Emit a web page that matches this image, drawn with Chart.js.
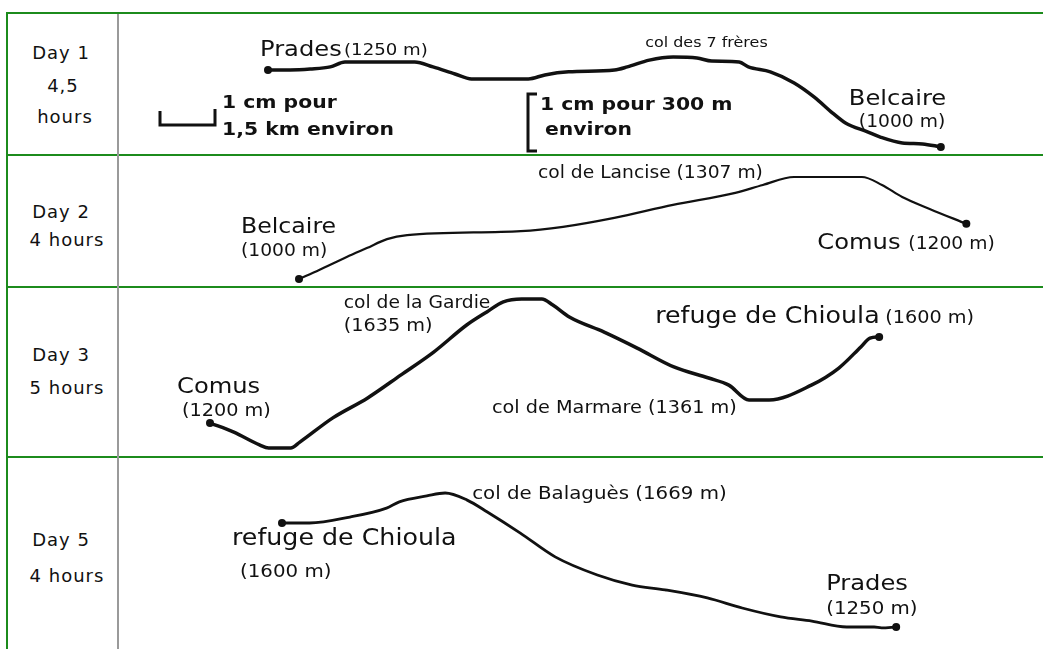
<!DOCTYPE html>
<html>
<head>
<meta charset="utf-8">
<script src="https://cdn.jsdelivr.net/npm/chart.js@4.4.1/dist/chart.umd.min.js"></script>
<style>
  body { margin: 0; background: #fff; width: 1043px; height: 649px; overflow: hidden; position: relative;
         font-family: "DejaVu Sans", sans-serif; color: #111; }
  .g { position: absolute; background: #1c8b1c; }
  .v { position: absolute; background: #9a9a9a; }
  .day { position: absolute; width: 110px; text-align: center; font-size: 18px; line-height: 22px; letter-spacing: 1px; }
  canvas { position: absolute; left: 119px; }
</style>
</head>
<body>
<div class="g" style="left:6px;top:12px;width:1037px;height:2px"></div>
<div class="g" style="left:6px;top:154px;width:1037px;height:2px"></div>
<div class="g" style="left:6px;top:286px;width:1037px;height:2px"></div>
<div class="g" style="left:6px;top:456px;width:1037px;height:2px"></div>
<div class="g" style="left:6px;top:12px;width:2px;height:637px"></div>
<div class="v" style="left:117px;top:14px;width:2px;height:635px"></div>

<div class="day" style="left:6px;top:42px">Day 1</div>
<div class="day" style="left:8px;top:75px">4,5</div>
<div class="day" style="left:10px;top:106px">hours</div>
<div class="day" style="left:6px;top:201px">Day 2</div>
<div class="day" style="left:12px;top:229px">4 hours</div>
<div class="day" style="left:6px;top:344px">Day 3</div>
<div class="day" style="left:12px;top:377px">5 hours</div>
<div class="day" style="left:6px;top:529px">Day 5</div>
<div class="day" style="left:12px;top:565px">4 hours</div>

<canvas id="day1" width="924" height="140" style="top:14px"></canvas>
<canvas id="day2" width="924" height="130" style="top:156px"></canvas>
<canvas id="day3" width="924" height="168" style="top:288px"></canvas>
<canvas id="day5" width="924" height="191" style="top:458px"></canvas>

<script>
// distance along the day (km) and altitude (m)
const day1Km   = [0, 0.6, 1.15, 1.7, 2.1, 4.0, 4.5, 5.1, 5.55, 6.35, 7.1, 7.55, 8.2, 9.45, 9.8, 10.4, 11.05, 11.7, 12.1, 12.85, 13.1, 13.7, 14.35, 14.9, 15.4, 15.75, 16.35, 16.7, 17.3, 17.85, 18.35];
const day1Elev = [1250, 1250, 1253, 1260, 1276, 1276, 1260, 1237, 1221, 1221, 1221, 1234, 1244, 1250, 1260, 1282, 1292, 1289, 1279, 1276, 1260, 1244, 1208, 1162, 1110, 1078, 1049, 1032, 1013, 1010, 1000];

const day2Km   = [0, 0.55, 1.3, 1.85, 2.4, 2.95, 6.05, 7.2, 8.6, 10.2, 11.9, 12.65, 13.5, 15.35, 15.9, 16.45, 17.2, 18.2];
const day2Elev = [1000, 1027, 1066, 1093, 1120, 1132, 1144, 1157, 1184, 1223, 1259, 1283, 1307, 1307, 1283, 1247, 1211, 1166];

const day3Km   = [0, 0.65, 1.35, 1.6, 2.2, 2.45, 3.35, 4.3, 5.2, 6.1, 7.0, 7.55, 8.0, 8.5, 9.05, 9.35, 9.8, 10.75, 11.65, 12.65, 13.6, 14.15, 14.7, 15.25, 16.4, 17.15, 17.75, 18.0, 18.25];
const day3Elev = [1200, 1168, 1123, 1112, 1112, 1133, 1218, 1288, 1368, 1449, 1544, 1590, 1625, 1635, 1635, 1614, 1572, 1519, 1463, 1397, 1358, 1333, 1281, 1281, 1333, 1393, 1467, 1498, 1502];

const day5Km   = [0, 0.75, 1.85, 2.85, 3.2, 3.95, 4.45, 5.05, 5.6, 6.5, 7.45, 8.6, 9.55, 10.45, 11.6, 12.55, 13.6, 14.45, 15.4, 16.15, 16.35, 16.75];
const day5Elev = [1600, 1600, 1620, 1650, 1671, 1691, 1701, 1677, 1637, 1566, 1486, 1425, 1391, 1375, 1348, 1314, 1284, 1270, 1250, 1250, 1247, 1250];

const PX_PER_KM = 55 / 1.5;   // "1 cm pour 1,5 km environ"
const KM_SPAN = 924 / PX_PER_KM;
const STRETCH = 1.1;

// labels hang off a point of the profile: at = point index, dx/dy in pixels
const rows = [
  { id: 'day1', km: day1Km, elev: day1Elev, startX: 268, yMin: 977.2, yMax: 1431.8, lw: 3.5, scaleKey: true,
    labels: [
      { text: 'Prades', at: 0, dx: -8, dy: -14, size: 22 },
      { text: '(1250 m)', at: 0, dx: 76, dy: -15, size: 16.5 },
      { text: 'col des 7 frères', at: 16, dx: -28, dy: -10, size: 14.5 },
      { text: 'Belcaire', at: 30, dx: -92, dy: -42, size: 22 },
      { text: '(1000 m)', at: 30, dx: -82, dy: -20, size: 17 },
    ] },
  { id: 'day2', km: day2Km, elev: day2Elev, startX: 299, yMin: 978.9, yMax: 1370.2, lw: 2.2,
    labels: [
      { text: 'Belcaire', at: 0, dx: -58, dy: -46, size: 21.5 },
      { text: '(1000 m)', at: 0, dx: -58, dy: -23, size: 17 },
      { text: 'col de Lancise (1307 m)', at: 12, dx: -256, dy: 1, size: 17 },
      { text: 'Comus', at: 17, dx: -149, dy: 25, size: 22 },
      { text: '(1200 m)', at: 17, dx: -58, dy: 25, size: 17 },
    ] },
  { id: 'day3', km: day3Km, elev: day3Elev, startX: 210, yMin: 1084.2, yMax: 1673.9, lw: 3.5,
    labels: [
      { text: 'col de la Gardie', at: 13, dx: -178, dy: 9, size: 17 },
      { text: '(1635 m)', at: 13, dx: -178, dy: 32, size: 17.5 },
      { text: 'Comus', at: 0, dx: -33, dy: -30, size: 22 },
      { text: '(1200 m)', at: 0, dx: -28, dy: -7, size: 17.5 },
      { text: 'refuge de Chioula', at: 28, dx: -224, dy: -14, size: 23 },
      { text: '(1600 m)', at: 28, dx: 6, dy: -14, size: 17.5 },
      { text: 'col de Marmare (1361 m)', at: 22, dx: -257, dy: 13, size: 17.5 },
    ] },
  { id: 'day5', km: day5Km, elev: day5Elev, startX: 282, yMin: 1176.0, yMax: 1818.7, lw: 2.8,
    labels: [
      { text: 'col de Balaguès (1669 m)', at: 6, dx: 27, dy: 6, size: 18 },
      { text: 'refuge de Chioula', at: 0, dx: -50, dy: 22, size: 23 },
      { text: '(1600 m)', at: 0, dx: -42, dy: 54, size: 18 },
      { text: 'Prades', at: 21, dx: -70, dy: -37, size: 22 },
      { text: '(1250 m)', at: 21, dx: -70, dy: -13, size: 18 },
    ] },
];

function drawText(ctx, text, x, y, size, bold) {
  ctx.save();
  ctx.translate(x, y);
  ctx.scale(STRETCH, 1);
  ctx.font = (bold ? 'bold ' : '') + size + 'px "DejaVu Sans"';
  ctx.fillText(text, 0, 0);
  ctx.restore();
}

const profileLabels = {
  id: 'profileLabels',
  afterDatasetsDraw(chart, args, opts) {
    const ctx = chart.ctx;
    const pts = chart.getDatasetMeta(0).data;
    ctx.save();
    ctx.fillStyle = '#111';
    ctx.textBaseline = 'alphabetic';
    (opts.items || []).forEach(l => {
      const p = pts[l.at];
      drawText(ctx, l.text, p.x + l.dx, p.y + l.dy, l.size, false);
    });
    if (opts.scaleKey) {
      const xs = chart.scales.x;
      const barW = xs.getPixelForValue(1.5) - xs.getPixelForValue(0);
      ctx.strokeStyle = '#111';
      ctx.lineWidth = 3;
      ctx.beginPath();
      ctx.moveTo(41, 97); ctx.lineTo(41, 111); ctx.lineTo(41 + barW, 111); ctx.lineTo(41 + barW, 95);
      ctx.stroke();
      drawText(ctx, '1 cm pour', 103, 94, 18.5, true);
      drawText(ctx, '1,5 km environ', 103, 121, 18.5, true);
      ctx.beginPath();
      ctx.moveTo(418, 80); ctx.lineTo(409, 80); ctx.lineTo(409, 137); ctx.lineTo(418, 137);
      ctx.stroke();
      drawText(ctx, '1 cm pour 300 m', 421, 96, 18.5, true);
      drawText(ctx, 'environ', 426, 121, 18.5, true);
    }
    ctx.restore();
  }
};

rows.forEach(r => {
  const last = r.km.length - 1;
  const xMin = -(r.startX - 119) / PX_PER_KM;
  new Chart(document.getElementById(r.id), {
    type: 'line',
    data: {
      datasets: [{
        data: r.km.map((k, i) => ({ x: k, y: r.elev[i] })),
        borderColor: '#111',
        borderWidth: r.lw,
        cubicInterpolationMode: 'monotone',
        pointRadius: c => (c.dataIndex === 0 || c.dataIndex === last) ? 4 : 0,
        pointBackgroundColor: '#111',
        pointBorderWidth: 0,
        fill: false,
        clip: false,
      }],
    },
    options: {
      responsive: false,
      animation: false,
      layout: { padding: 0, autoPadding: false },
      scales: {
        x: { type: 'linear', display: false, min: xMin, max: xMin + KM_SPAN },
        y: { type: 'linear', display: false, min: r.yMin, max: r.yMax },
      },
      plugins: {
        legend: { display: false },
        tooltip: { enabled: false },
        profileLabels: { items: r.labels, scaleKey: !!r.scaleKey },
      },
    },
    plugins: [profileLabels],
  });
});
</script>
</body>
</html>
